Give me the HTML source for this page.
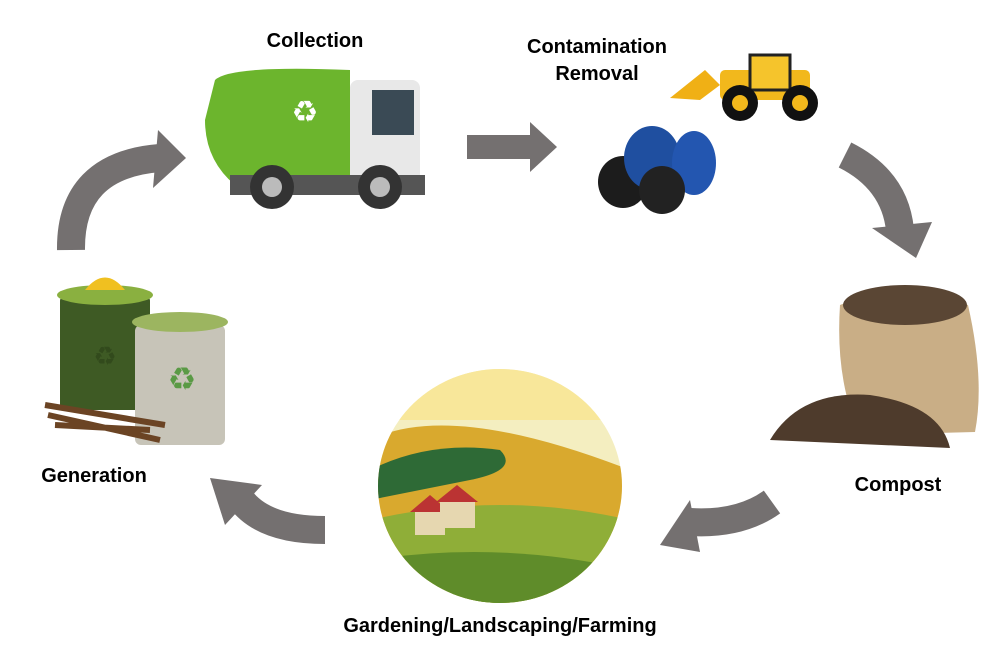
<!DOCTYPE html>
<html><head><style>
body{margin:0;background:#fff;width:1008px;height:657px;overflow:hidden;font-family:"Liberation Sans",sans-serif}
.l{position:absolute;font-weight:bold;font-size:20px;color:#000;text-align:center;white-space:nowrap}
</style></head><body>
<svg width="1008" height="657" style="position:absolute;left:0;top:0">
<g fill="none" stroke="#747070" stroke-width="28">
<path d="M71,250 Q70,165 160,158"/>
<path d="M845,155 Q895,180 900,230"/>
<path d="M772,502 Q740,525 690,522"/>
<path d="M325,530 Q255,530 235,490"/>
</g>
<g fill="#747070">
<polygon points="158,130 186,158 153,188"/>
<rect x="467" y="135" width="65" height="24"/>
<polygon points="530,122 557,147 530,172"/>
<polygon points="872,228 916,258 932,222"/>
<polygon points="690,500 660,545 700,552"/>
<polygon points="262,485 210,478 225,525"/>
</g>
<!-- truck -->
<path d="M215,80 Q230,65 350,70 L350,185 L235,185 Q205,160 205,120 Z" fill="#6cb52d"/>
<rect x="350" y="80" width="70" height="110" rx="8" fill="#e8e8e8"/>
<rect x="372" y="90" width="42" height="45" fill="#3a4a55"/>
<rect x="230" y="175" width="195" height="20" fill="#555"/>
<circle cx="272" cy="187" r="22" fill="#333"/><circle cx="272" cy="187" r="10" fill="#bbb"/>
<circle cx="380" cy="187" r="22" fill="#333"/><circle cx="380" cy="187" r="10" fill="#bbb"/>
<text x="305" y="122" font-size="30" fill="#fff" text-anchor="middle">♻</text>
<!-- bags -->
<ellipse cx="623" cy="182" rx="25" ry="26" fill="#1c1c1c"/>
<ellipse cx="652" cy="158" rx="28" ry="32" fill="#1f4fa0"/>
<ellipse cx="694" cy="163" rx="22" ry="32" fill="#2356b0"/>
<ellipse cx="662" cy="190" rx="23" ry="24" fill="#222"/>
<!-- loader -->
<rect x="720" y="70" width="90" height="30" rx="5" fill="#f2b81c"/>
<rect x="750" y="55" width="40" height="35" fill="#f5c42c" stroke="#222" stroke-width="3"/>
<polygon points="670,98 705,70 720,85 700,100" fill="#f0b015"/>
<circle cx="740" cy="103" r="18" fill="#111"/><circle cx="740" cy="103" r="8" fill="#f2b81c"/>
<circle cx="800" cy="103" r="18" fill="#111"/><circle cx="800" cy="103" r="8" fill="#f2b81c"/>
<!-- sack -->
<path d="M840,305 Q900,280 968,305 Q985,380 975,432 L860,435 Q835,380 840,305 Z" fill="#c9ae86"/>
<ellipse cx="905" cy="305" rx="62" ry="20" fill="#5a4634"/>
<path d="M770,440 Q800,390 870,395 Q940,405 950,448 Z" fill="#4e3b2c"/>
<!-- landscape -->
<defs><clipPath id="c"><ellipse cx="500" cy="486" rx="122" ry="117"/></clipPath></defs>
<g clip-path="url(#c)">
<rect x="370" y="360" width="260" height="250" fill="#f4eec0"/>
<rect x="370" y="360" width="260" height="60" fill="#f8e79a"/>
<path d="M370,440 Q450,400 630,470 L630,610 L370,610 Z" fill="#d9a92e"/>
<path d="M370,470 Q430,440 500,450 Q520,470 470,480 L370,500 Z" fill="#2e6a36"/>
<path d="M370,520 Q500,490 630,520 L630,610 L370,610 Z" fill="#8fae38"/>
<path d="M370,560 Q500,540 630,570 L630,610 L370,610 Z" fill="#5f8c2a"/>
<rect x="415" y="510" width="30" height="25" fill="#e6d7b0"/><polygon points="410,512 430,495 450,512" fill="#b33"/>
<rect x="440" y="500" width="35" height="28" fill="#e6d7b0"/><polygon points="436,502 457,485 478,502" fill="#b33"/>
</g>
<!-- bins -->
<rect x="60" y="295" width="90" height="115" rx="6" fill="#3e5a24"/>
<ellipse cx="105" cy="295" rx="48" ry="10" fill="#8ab040"/>
<rect x="135" y="325" width="90" height="120" rx="6" fill="#c7c4b8"/>
<ellipse cx="180" cy="322" rx="48" ry="10" fill="#9cb560"/>
<text x="182" y="390" font-size="32" fill="#5a9a45" text-anchor="middle">♻</text>
<text x="105" y="365" font-size="26" fill="#324a1c" text-anchor="middle">♻</text>
<path d="M45,405 L165,425 M48,415 L160,440 M55,425 L150,430" stroke="#6b4424" stroke-width="6"/>
<path d="M85,290 Q105,265 125,290 Z" fill="#f0c020"/>
</svg>
<div class="l" style="left:240px;top:30px;width:150px">Collection</div>
<div class="l" style="left:497px;top:34px;width:200px;line-height:27px">Contamination<br>Removal</div>
<div class="l" style="left:838px;top:474px;width:120px">Compost</div>
<div class="l" style="left:24px;top:465px;width:140px">Generation</div>
<div class="l" style="left:300px;top:615px;width:400px">Gardening/Landscaping/Farming</div>
</body></html>
